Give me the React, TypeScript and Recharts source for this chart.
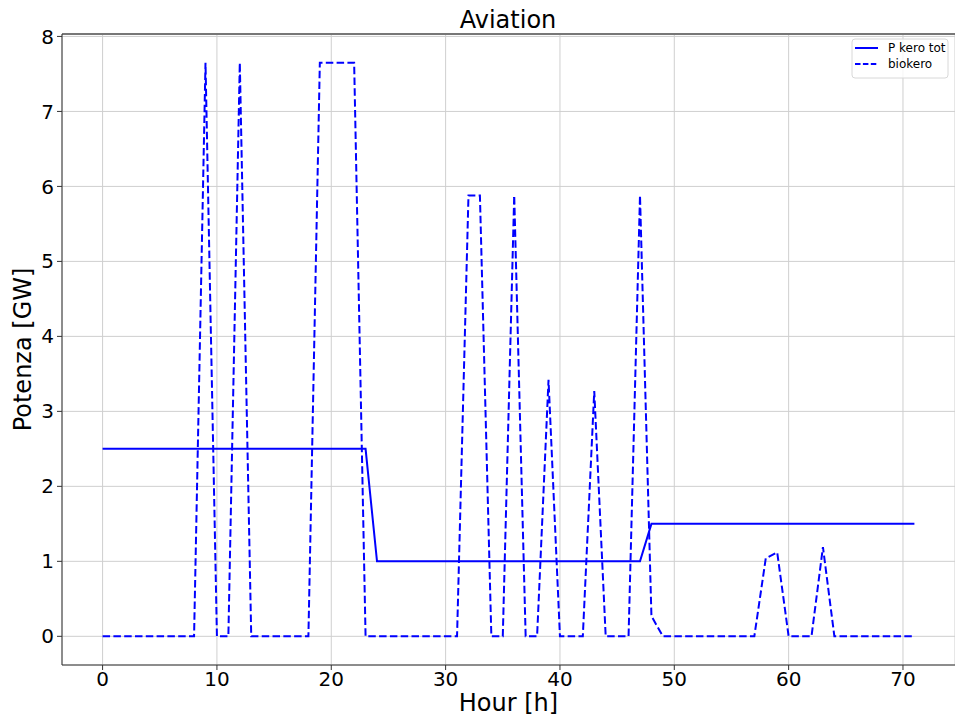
import { CartesianGrid, Line, LineChart, ReferenceLine, XAxis, YAxis } from 'recharts'

// hourly values (hours 0..71)
const pKeroTot = [
  2.5, 2.5, 2.5, 2.5, 2.5, 2.5, 2.5, 2.5, 2.5, 2.5, 2.5, 2.5,
  2.5, 2.5, 2.5, 2.5, 2.5, 2.5, 2.5, 2.5, 2.5, 2.5, 2.5, 2.5,
  1.0, 1.0, 1.0, 1.0, 1.0, 1.0, 1.0, 1.0, 1.0, 1.0, 1.0, 1.0,
  1.0, 1.0, 1.0, 1.0, 1.0, 1.0, 1.0, 1.0, 1.0, 1.0, 1.0, 1.0,
  1.5, 1.5, 1.5, 1.5, 1.5, 1.5, 1.5, 1.5, 1.5, 1.5, 1.5, 1.5,
  1.5, 1.5, 1.5, 1.5, 1.5, 1.5, 1.5, 1.5, 1.5, 1.5, 1.5, 1.5,
]

const biokero = [
  0, 0, 0, 0, 0, 0, 0, 0, 0, 7.65, 0, 0,
  7.65, 0, 0, 0, 0, 0, 0, 7.65, 7.65, 7.65, 7.65, 0,
  0, 0, 0, 0, 0, 0, 0, 0, 5.88, 5.88, 0, 0,
  5.88, 0, 0, 3.42, 0, 0, 0, 3.27, 0, 0, 0, 5.88,
  0.27, 0, 0, 0, 0, 0, 0, 0, 0, 0, 1.04, 1.12,
  0, 0, 0, 1.19, 0, 0, 0, 0, 0, 0, 0, 0,
]

const xTicks = [0, 10, 20, 30, 40, 50, 60, 70]
const yTicks = [0, 1, 2, 3, 4, 5, 6, 7, 8]

const data = pKeroTot.map((v, i) => ({ hour: i, pKeroTot: v, biokero: biokero[i] }))

const FONT = 'DejaVu Sans, sans-serif'
const BLUE = '#0000ff'
const Y_MIN = -0.3825
const Y_MAX = 8.0325

export default function App() {
  return (
    <div style={{ position: 'absolute', left: 0, top: 0, width: 955, height: 726, background: '#fff' }}>
      <LineChart
        width={955}
        height={726}
        data={data}
        margin={{ top: 34, right: 0, bottom: 0, left: 0 }}
      >
        <CartesianGrid stroke="#cfcfcf" strokeWidth={1} />
        <XAxis
          type="number"
          dataKey="hour"
          domain={[-3.55, 74.55]}
          ticks={xTicks}
          allowDataOverflow
          height={61}
          tickSize={5}
          tickMargin={2}
          stroke="#333"
          tick={{ fontSize: 20, fill: '#000', fontFamily: FONT }}
          label={{
            value: 'Hour [h]',
            position: 'insideBottom',
            offset: 15,
            style: { fontSize: 24, fill: '#000', fontFamily: FONT },
          }}
        />
        <YAxis
          type="number"
          domain={[Y_MIN, Y_MAX]}
          ticks={yTicks}
          allowDataOverflow
          width={62}
          tickSize={5}
          tickMargin={3}
          stroke="#333"
          tick={{ fontSize: 20, fill: '#000', fontFamily: FONT }}
          label={{
            value: 'Potenza [GW]',
            angle: -90,
            position: 'insideLeft',
            offset: 22,
            style: { fontSize: 24, fill: '#000', fontFamily: FONT, textAnchor: 'middle' },
          }}
        />
        <ReferenceLine y={Y_MAX} stroke="#777" strokeWidth={2} />
        <Line
          type="linear"
          dataKey="pKeroTot"
          stroke={BLUE}
          strokeWidth={2}
          dot={false}
          isAnimationActive={false}
        />
        <Line
          type="linear"
          dataKey="biokero"
          stroke={BLUE}
          strokeWidth={2}
          strokeDasharray="7.5 3.3"
          dot={false}
          isAnimationActive={false}
        />
      </LineChart>
      <svg
        width={955}
        height={726}
        style={{ position: 'absolute', left: 0, top: 0, pointerEvents: 'none' }}
      >
        <text x={508} y={28} textAnchor="middle" fontSize={24} fontFamily={FONT} fill="#000">
          Aviation
        </text>
        <rect x={852} y={39} width={96} height={39} rx={3} fill="#fff" fillOpacity={0.8} stroke="#d8d8d8" />
        <line x1={855} y1={48} x2={878} y2={48} stroke={BLUE} strokeWidth={2} />
        <text x={888} y={52} fontSize={12} fontFamily={FONT} fill="#000">P kero tot</text>
        <line x1={855} y1={64} x2={878} y2={64} stroke={BLUE} strokeWidth={2} strokeDasharray="5.5 2.4" />
        <text x={888} y={68} fontSize={12} fontFamily={FONT} fill="#000">biokero</text>
      </svg>
    </div>
  )
}
